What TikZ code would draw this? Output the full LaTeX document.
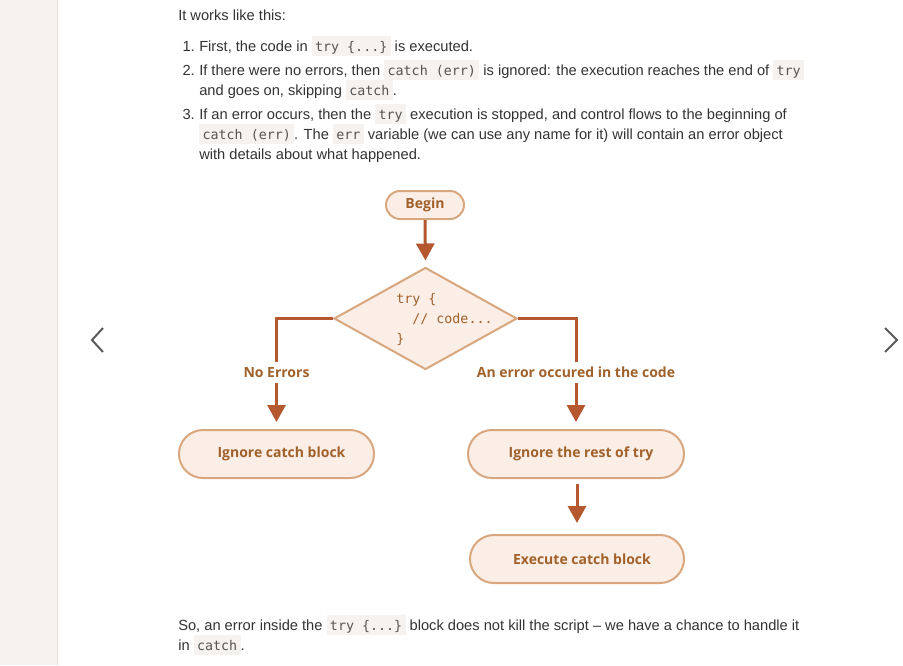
\documentclass[tikz,border=0pt]{standalone}
\usepackage{fontspec}
\setmainfont{Liberation Sans}
\newfontfamily\labelfont{Open Sans}
\setmonofont{DejaVu Sans Mono}
\usetikzlibrary{shapes.geometric,arrows.meta}
\definecolor{nodefill}{HTML}{FBEEE6}
\definecolor{nodeborder}{HTML}{D9A77E}
\definecolor{nodetext}{HTML}{A0612B}
\definecolor{arrowcol}{HTML}{B5582F}
\definecolor{sidebar}{HTML}{F5F2F0}
\definecolor{sideline}{HTML}{E6E0DD}
\definecolor{codebg}{HTML}{F5F2F0}
\definecolor{bodytext}{HTML}{333333}
\definecolor{codetext}{HTML}{555555}
\definecolor{chev}{HTML}{5A5A5A}
\newcommand\cd[1]{{\setlength\fboxsep{0pt}\colorbox{codebg}{\rule[-4pt]{0pt}{15pt}\hspace{2.5pt}{\fontsize{10}{12}\selectfont\ttfamily\color{codetext}#1}\hspace{2.5pt}}}}
\newcommand\shiftr{\hspace*{7.5pt}}
\tikzset{
  body/.style={anchor=base west,inner sep=0pt,text=bodytext,font=\fontsize{11}{13}\selectfont},
  num/.style={anchor=base east,inner sep=0pt,text=bodytext,font=\fontsize{11}{13}\selectfont},
  pill/.style={draw=nodeborder,fill=nodefill,line width=1.5pt,rounded corners=#1,text=nodetext,font=\labelfont\bfseries\fontsize{10.5}{12}\selectfont,inner sep=0pt},
  pill/.default=18pt,
  arr/.style={draw=arrowcol,line width=2.25pt,-{Triangle[width=13.5pt,length=12.75pt]}},
  lbl/.style={fill=white,text=nodetext,font=\labelfont\bfseries\fontsize{10.5}{12}\selectfont,inner xsep=1pt,inner ysep=4pt},
  chevron/.style={draw=chev,line width=1.5pt}
}
\begin{document}
\begin{tikzpicture}[x=0.75pt,y=-0.75pt]
\useasboundingbox (0,0) rectangle (903,665);
\fill[white] (0,0) rectangle (903,665);
% sidebar
\fill[sidebar] (0,0) rectangle (57,665);
\draw[sideline,line width=0.75pt] (57.5,0) -- (57.5,665);
% chevrons
\draw[chevron] (103,328) -- (92,340) -- (103,352);
\draw[chevron] (885,328) -- (897,340) -- (885,352);
% text
\node[body] (t0) at (178,20) {It works like this:};
\node[num] (n1) at (195,51) {1.};
\node[body] (t1) at (199,51) {First, the code in \cd{try \{...\}} is executed.};
\node[num] (n2) at (195,75) {2.};
\node[body] (t2) at (199,75) {If there were no errors, then \cd{catch (err)} is ignored: the execution reaches the end of \cd{try}};
\node[body] (t2b) at (199,95) {and goes on, skipping \cd{catch}.};
\node[num] (n3) at (195,119) {3.};
\node[body] (t3) at (199,119) {If an error occurs, then the \cd{try} execution is stopped, and control flows to the beginning of};
\node[body] (t3b) at (199,139) {\cd{catch (err)}. The \cd{err} variable (we can use any name for it) will contain an error object};
\node[body] (t3c) at (199,159) {with details about what happened.};
\node[body] (b1) at (178,630) {So, an error inside the \cd{try \{...\}} block does not kill the script -- we have a chance to handle it};
\node[body] (b2) at (178,650) {in \cd{catch}.};
% flowchart
\node[pill=10.5pt,minimum width=58.5pt,minimum height=21pt] (begin) at (425,205) {Begin};
\node[diamond,draw=nodeborder,fill=nodefill,line width=1.5pt,minimum width=137.25pt,minimum height=76.5pt,inner sep=0pt] (try) at (425.5,318.5) {};
\node[anchor=west,align=left,inner sep=0pt,text=nodetext,font=\fontsize{10}{15}\selectfont\ttfamily] (code) at (396,320) {try \{\\\ \ // code...\\\}};
\node[pill,minimum width=146.25pt,minimum height=36pt] (icb) at (276.5,454) {\shiftr Ignore catch block};
\node[pill,minimum width=162pt,minimum height=36pt] (irt) at (576,454) {\shiftr Ignore the rest of try};
\node[pill,minimum width=160.5pt,minimum height=36pt] (ecb) at (577,559) {\shiftr Execute catch block};
% connectors
\draw[arr,shorten >=4.5pt] (begin.south) -- (try.north);
\draw[arr,shorten >=5.25pt] (try.west) -| (icb.north) node[lbl,pos=0.745] (l1) {No Errors};
\draw[arr,shorten >=5.25pt] (try.east) -| (irt.north) node[lbl,pos=0.745] (l2) {An error occured in the code};
\draw[arr,shorten <=3.75pt,shorten >=8.25pt] (irt.south -| ecb.north) -- (ecb.north);
\end{tikzpicture}
\end{document}
